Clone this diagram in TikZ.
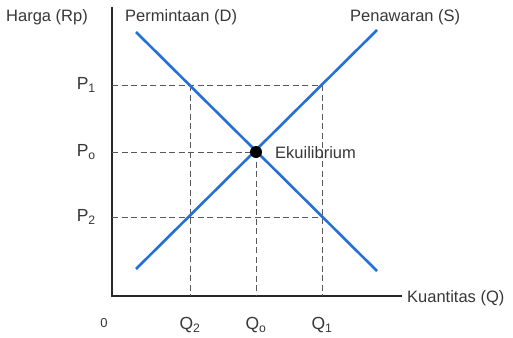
\documentclass[tikz,border=0pt]{standalone}
\usepackage{fontspec}
\setmainfont{Liberation Sans}
\usepackage{xcolor}
\usetikzlibrary{positioning}
\definecolor{curveblue}{RGB}{36,112,214}
\definecolor{axisgray}{RGB}{40,40,40}
\definecolor{txtgray}{RGB}{55,55,55}

\begin{document}
\begin{tikzpicture}[x=1pt, y=-1pt,
        lbl/.style={font=\fontsize{16.5}{18}\selectfont, text=txtgray, inner sep=0pt},
        tick/.style={font=\fontsize{17.5}{19}\selectfont, text=txtgray, inner sep=0pt},
        axis/.style={line width=2.4pt, draw=axisgray},
        curve/.style={line width=2.6pt, draw=curveblue},
        guide/.style={draw=gray!70!black, line width=1pt, dash pattern=on 6pt off 3.5pt}
    ]
        \useasboundingbox (0,0) rectangle (513,337);

        % ── Axes ─────────────────────────────────────────────────────────
        \coordinate (O)    at (112, 296);
        \coordinate (ytop) at (112, 7);
        \coordinate (xend) at (402, 296);
        \draw[axis] (ytop) -- (O) -- (xend);

        % ── Price / quantity levels ──────────────────────────────────────
        \coordinate (p1) at (112, 85);
        \coordinate (p0) at (112, 152);
        \coordinate (p2) at (112, 217);
        \coordinate (q2) at (190, 296);
        \coordinate (q0) at (256, 296);
        \coordinate (q1) at (322, 296);
        \coordinate (a1) at (190, 85);   % D at P1
        \coordinate (b1) at (322, 85);   % S at P1
        \coordinate (eq) at (256, 152);  % equilibrium
        \coordinate (a2) at (190, 217);  % S at P2
        \coordinate (b2) at (322, 217);  % D at P2

        \draw[guide] (p1) -- (b1);
        \draw[guide] (p0) -- (eq);
        \draw[guide] (p2) -- (b2);
        \draw[guide] (a1) -- (q2);
        \draw[guide] (eq) -- (q0);
        \draw[guide] (b1) -- (q1);

        % ── Demand and supply curves ─────────────────────────────────────
        \coordinate (dtop) at (136, 32);
        \coordinate (dbot) at (377, 271);
        \coordinate (sbot) at (136, 269);
        \coordinate (stop) at (377, 30);
        \draw[curve] (dtop) -- (dbot);
        \draw[curve] (sbot) -- (stop);
        \fill (eq) circle (6);

        % ── Labels ───────────────────────────────────────────────────────
        \node[lbl, anchor=west] (harga) at (6, 17)   {Harga (Rp)};
        \node[lbl, anchor=west] (dem)   at (125, 17) {Permintaan (D)};
        \node[lbl, anchor=west] (sup)   at (350, 17) {Penawaran (S)};
        \node[lbl, anchor=west] (ekui)  at (275, 153) {Ekuilibrium};
        \node[lbl, anchor=west] (kuan)  at (407, 298) {Kuantitas (Q)};

        \node[tick, left=16pt of p1] (lp1) {P\textsubscript{1}};
        \node[tick, left=16pt of p0] (lp0) {P\textsubscript{o}};
        \node[tick, left=16pt of p2] (lp2) {P\textsubscript{2}};
        \node[tick, below=21pt of q2] (lq2) {Q\textsubscript{2}};
        \node[tick, below=21pt of q0] (lq0) {Q\textsubscript{o}};
        \node[tick, below=21pt of q1] (lq1) {Q\textsubscript{1}};
        \node[tick, below=22pt of O, xshift=-8pt, font=\fontsize{13}{15}\selectfont] (zero) {0};

    \end{tikzpicture}
\end{document}
